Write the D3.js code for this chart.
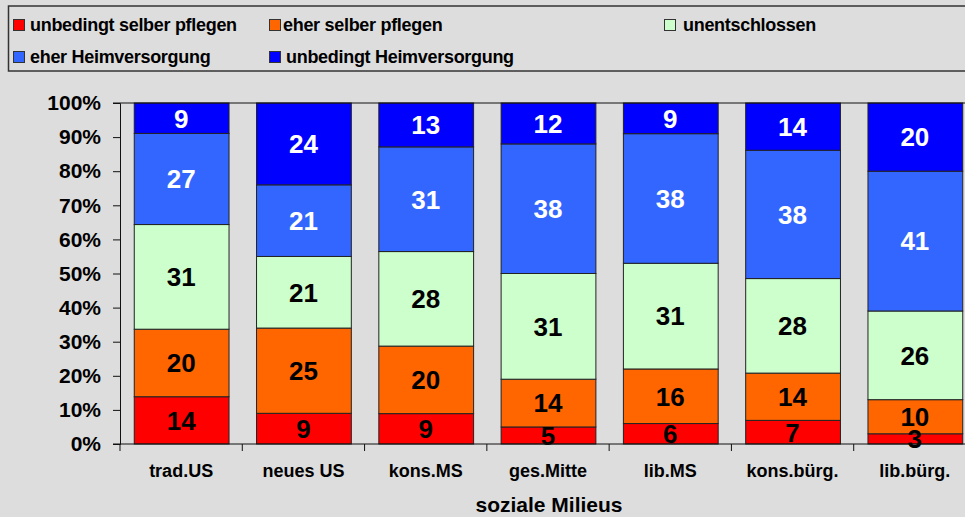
<!DOCTYPE html>
<html>
<head>
<meta charset="utf-8">
<script src="https://cdn.jsdelivr.net/npm/d3@7"></script>
<style>
  body { margin: 0; background: #dddddd; }
  svg { display: block; font-family: Arial, "Liberation Sans", sans-serif; font-weight: bold; }
</style>
</head>
<body>
<script>
const categories = ['trad.US', 'neues US', 'kons.MS', 'ges.Mitte', 'lib.MS', 'kons.bürg.', 'lib.bürg.'];
const seriesNames = ['unbedingt selber pflegen', 'eher selber pflegen', 'unentschlossen', 'eher Heimversorgung', 'unbedingt Heimversorgung'];
const seriesColors = ['#ff0000', '#ff6600', '#ccffcc', '#3366ff', '#0000ff'];
const labelColors = ['#000', '#000', '#000', '#fff', '#fff'];

// values per series, one per milieu
const selberUnbedingt = [14, 9, 9, 5, 6, 7, 3];
const selberEher = [20, 25, 20, 14, 16, 14, 10];
const unentschlossen = [31, 21, 28, 31, 31, 28, 26];
const heimEher = [27, 21, 31, 38, 38, 38, 41];
const heimUnbedingt = [9, 24, 13, 12, 9, 14, 20];

const yTicks = [0, 0.1, 0.2, 0.3, 0.4, 0.5, 0.6, 0.7, 0.8, 0.9, 1];

const width = 965;
const height = 517;

const allSeries = [selberUnbedingt, selberEher, unentschlossen, heimEher, heimUnbedingt];
const rows = categories.map((c, i) => {
  const r = {cat: c};
  seriesNames.forEach((s, j) => { r[s] = allSeries[j][i]; });
  return r;
});

const stacked = d3.stack()
  .keys(seriesNames)
  .offset(d3.stackOffsetExpand)(rows);

const svg = d3.select('body')
  .append('svg')
  .attr('width', width)
  .attr('height', height);

const x = d3.scaleBand()
  .domain(categories)
  .range([120, 976])
  .paddingInner(0.225)
  .paddingOuter(0.1125);

const y = d3.scaleLinear()
  .domain([0, 1])
  .range([444, 103]);

// legend
const legend = svg.append('g').attr('class', 'legend');
legend.append('rect')
  .attr('x', 8.5)
  .attr('y', 6)
  .attr('width', 1000)
  .attr('height', 65)
  .attr('fill', 'none')
  .attr('stroke', '#333')
  .attr('stroke-width', 1.5);

// square x, text x, baseline y
const legendPos = [[13, 30, 31], [269, 283, 31], [664, 683, 31], [13, 30, 63], [269, 286, 63]];
seriesNames.forEach((s, i) => {
  const p = legendPos[i];
  legend.append('rect')
    .attr('x', p[0] + 0.5)
    .attr('y', p[2] - 11.5)
    .attr('width', 11)
    .attr('height', 11)
    .attr('fill', seriesColors[i])
    .attr('stroke', '#333')
    .attr('stroke-width', 1);
  legend.append('text')
    .attr('x', p[1])
    .attr('y', p[2])
    .attr('font-size', 18)
    .attr('letter-spacing', -0.3)
    .attr('fill', '#000')
    .text(s);
});

// bars
const layers = svg.append('g').attr('class', 'bars')
  .selectAll('g')
  .data(stacked)
  .join('g')
  .attr('fill', (d, i) => seriesColors[i]);

layers.selectAll('rect')
  .data(d => d)
  .join('rect')
  .attr('x', d => x(d.data.cat) + 0.5)
  .attr('y', d => y(d[1]))
  .attr('width', x.bandwidth())
  .attr('height', d => y(d[0]) - y(d[1]))
  .attr('stroke', '#222')
  .attr('stroke-width', 1);

// value labels
stacked.forEach((layer, i) => {
  svg.append('g')
    .selectAll('text')
    .data(layer)
    .join('text')
    .attr('x', d => x(d.data.cat) + x.bandwidth() / 2)
    .attr('y', d => (y(d[0]) + y(d[1])) / 2)
    .attr('dy', '0.36em')
    .attr('text-anchor', 'middle')
    .attr('font-size', 26)
    .attr('fill', labelColors[i])
    .text(d => d.data[layer.key]);
});

// top border of plot area
svg.append('line')
  .attr('x1', 113).attr('x2', width)
  .attr('y1', y(1)).attr('y2', y(1))
  .attr('stroke', '#111');

// y axis
const yAxis = svg.append('g')
  .attr('transform', 'translate(120,0)')
  .call(d3.axisLeft(y).tickValues(yTicks).tickFormat(d3.format('.0%')).tickSize(7).tickPadding(12));
yAxis.select('.domain').attr('stroke', '#111');
yAxis.selectAll('.tick line').attr('stroke', '#111');
yAxis.selectAll('text')
  .attr('font-size', 21)
  .attr('font-family', 'Arial, "Liberation Sans", sans-serif')
  .attr('font-weight', 'bold')
  .attr('fill', '#000');

// x axis with ticks between categories
const xAxis = svg.append('g').attr('transform', `translate(0,${y(0)})`);
xAxis.append('line')
  .attr('x1', 113).attr('x2', width)
  .attr('stroke', '#111');
xAxis.selectAll('.sep')
  .data(categories)
  .join('line')
  .attr('x1', c => x(c) - (x.step() - x.bandwidth()) / 2)
  .attr('x2', c => x(c) - (x.step() - x.bandwidth()) / 2)
  .attr('y1', 0).attr('y2', 7)
  .attr('stroke', '#111');
xAxis.selectAll('.lbl')
  .data(categories)
  .join('text')
  .attr('x', c => x(c) + x.bandwidth() / 2)
  .attr('y', 33)
  .attr('text-anchor', 'middle')
  .attr('font-size', 18)
  .attr('fill', '#000')
  .text(c => c);

svg.append('text')
  .attr('x', 549)
  .attr('y', 512)
  .attr('text-anchor', 'middle')
  .attr('font-size', 21)
  .attr('fill', '#000')
  .text('soziale Milieus');
</script>
</body>
</html>
